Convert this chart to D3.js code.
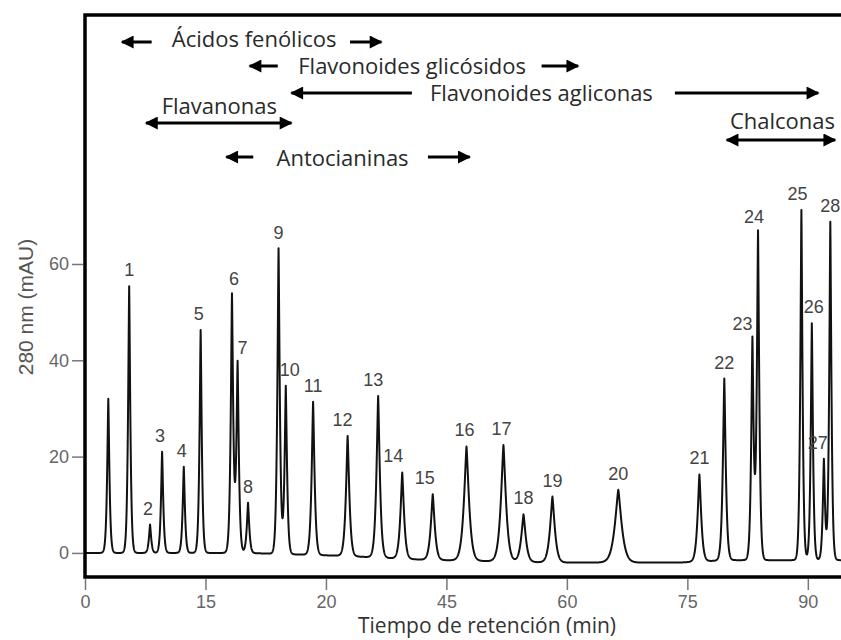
<!DOCTYPE html>
<html>
<head>
<meta charset="utf-8">
<script src="https://cdn.jsdelivr.net/npm/d3@7/dist/d3.min.js"></script>
<style>
  body { margin: 0; background: #fff; }
  svg { display: block; }
  .axis text { font-family: "Liberation Sans", Arial, sans-serif; font-size: 18px; fill: #666; }
  .axis line { stroke: #777; stroke-width: 1.5; }
  .axis path { display: none; }
  .peak-label { font-family: "Liberation Sans", Arial, sans-serif; font-size: 18px; fill: #444; }
  .note { font-family: "Open Sans", sans-serif; font-size: 22px; fill: #2a2a2a; }
</style>
</head>
<body>
<div id="chart"></div>
<script>
// Peak table (time in min, apex in mAU, width in min)
var peakLabels = ["", "1", "2", "3", "4", "5", "6", "7", "8", "9", "10", "11", "12", "13", "14",
  "15", "16", "17", "18", "19", "20", "21", "22", "23", "24", "25", "26", "27", "28"];
var peakTimes = [2.9, 5.5, 8.1, 9.6, 12.3, 14.4, 18.3, 19.0, 20.3, 24.1, 25.0, 28.4, 32.7, 36.5, 39.5,
  43.3, 47.5, 52.1, 54.6, 58.2, 66.4, 76.5, 79.6, 83.1, 83.8, 89.2, 90.5, 92.0, 92.8];
var peakHeights = [32, 55.4, 5.9, 21, 17.9, 46.3, 53.5, 39.3, 10.4, 63.2, 34.6, 31.4, 24.3, 32.6, 16.7,
  12.2, 22.1, 22.4, 8.0, 11.7, 13.1, 16.3, 36.2, 44.2, 66.5, 71.2, 47.7, 19.4, 68.7];
var peakWidths = [0.2, 0.2, 0.2, 0.2, 0.2, 0.2, 0.22, 0.22, 0.22, 0.22, 0.22, 0.26, 0.3, 0.3, 0.32,
  0.35, 0.45, 0.45, 0.4, 0.42, 0.6, 0.32, 0.26, 0.22, 0.22, 0.2, 0.2, 0.2, 0.2];

// Baseline drift read at a few times
var baselineTimes = [0, 20, 32, 42, 58, 74, 80, 96];
var baselineLevels = [0, 0, -0.6, -1.4, -2, -2, -1.5, -1.5];

// Axis ticks (labels as printed in the original figure)
var xTickValues = [0, 15, 30, 45, 60, 75, 90];
var xTickLabels = ["0", "15", "20", "45", "60", "75", "90"];
var yTickValues = [0, 20, 40, 60];

// Compound family ranges (min)
var families = [
  { name: "Ácidos fenólicos", text: 10.8, y: 38, arrows: [[8.3, 4.6], [33.0, 36.9]], ay: 42 },
  { name: "Flavonoides glicósidos", text: 26.55, y: 65, arrows: [[24.0, 20.5], [56.85, 61.4]], ay: 66 },
  { name: "Flavonoides agliconas", text: 42.95, y: 92, arrows: [[40.7, 25.7], [73.45, 91.3]], ay: 93 },
  { name: "Flavanonas", text: 9.55, y: 105, arrows: [[7.6, 25.7, "both"]], ay: 123 },
  { name: "Antocianinas", text: 23.85, y: 157, arrows: [[20.95, 17.6], [42.7, 47.9]], ay: 157 },
  { name: "Chalconas", text: 80.3, y: 120, arrows: [[79.9, 93.4, "both"]], ay: 140 }
];

var labelNudge = { "2": -2, "3": -2, "4": -2, "5": -2, "6": 2, "7": 5, "10": 4, "12": -5, "13": -5,
  "14": -9, "15": -8, "16": -2, "17": -2, "23": -10, "24": -4, "25": -4, "26": 2, "27": -6 };

var width = 841, height = 640;
var plot = { left: 85, top: 15, right: 852, bottom: 577 };

var svg = d3.select("#chart").append("svg")
  .attr("width", width)
  .attr("height", height);

var xScale = d3.scaleLinear().domain([0, 95.5]).range([plot.left, plot.right]);
var yScale = d3.scaleLinear().domain([-5, 111.7]).range([plot.bottom, plot.top]);

var baseline = d3.scaleLinear().domain(baselineTimes).range(baselineLevels);

var signal = function(t) {
  var v = baseline(t);
  for (var i = 0; i < peakTimes.length; i++) {
    var u = Math.abs(t - peakTimes[i]) / peakWidths[i];
    var amp = peakHeights[i] - baseline(peakTimes[i]);
    if (u < 15) v += amp * Math.exp(-Math.pow(u, 1.3));
  }
  return v;
};

var times = d3.range(0, 95.5, 0.02);

var defs = svg.append("defs");
defs.append("clipPath").attr("id", "plot-clip")
  .append("rect")
  .attr("x", plot.left).attr("y", plot.top)
  .attr("width", plot.right - plot.left).attr("height", plot.bottom - plot.top);

var line = d3.line()
  .x(function(t) { return xScale(t); })
  .y(function(t) { return yScale(signal(t)); });

svg.append("path")
  .datum(times)
  .attr("clip-path", "url(#plot-clip)")
  .attr("fill", "none")
  .attr("stroke", "#111")
  .attr("stroke-width", 2)
  .attr("stroke-linejoin", "round")
  .attr("d", line);

// Peak numbers
svg.append("g")
  .selectAll("text")
  .data(peakLabels.map(function(l, i) { return { label: l, t: peakTimes[i], h: peakHeights[i] }; })
    .filter(function(d) { return d.label !== ""; }))
  .enter()
  .append("text")
  .attr("class", "peak-label")
  .attr("text-anchor", "middle")
  .attr("dominant-baseline", "central")
  .attr("x", function(d) { return xScale(d.t) + (labelNudge[d.label] || 0); })
  .attr("y", function(d) { return yScale(d.h) - 16; })
  .text(function(d) { return d.label; });

// Frame
svg.append("rect")
  .attr("x", plot.left).attr("y", plot.top)
  .attr("width", plot.right - plot.left).attr("height", plot.bottom - plot.top)
  .attr("fill", "none")
  .attr("stroke", "#000")
  .attr("stroke-width", 3.5);

// Axes
svg.append("g")
  .attr("class", "axis y")
  .attr("transform", "translate(" + (plot.left - 2) + ",0)")
  .call(d3.axisLeft(yScale).tickValues(yTickValues).tickSize(11).tickPadding(3));

svg.append("g")
  .attr("class", "axis x")
  .attr("transform", "translate(0," + (plot.bottom + 2) + ")")
  .call(d3.axisBottom(xScale).tickValues(xTickValues).tickSize(11).tickPadding(5)
    .tickFormat(function(d, i) { return xTickLabels[i]; }));

svg.append("text")
  .attr("x", 487).attr("y", 625)
  .attr("text-anchor", "middle")
  .attr("dominant-baseline", "central")
  .attr("font-family", "'Open Sans', sans-serif")
  .attr("font-size", 21)
  .attr("fill", "#333")
  .text("Tiempo de retención (min)");

svg.append("text")
  .attr("transform", "translate(25,307) rotate(-90)")
  .attr("text-anchor", "middle")
  .attr("dominant-baseline", "central")
  .attr("font-family", "'Liberation Sans', Arial, sans-serif")
  .attr("font-size", 21)
  .attr("fill", "#555")
  .text("280 nm (mAU)");

// Family ranges with arrows
defs.append("marker")
  .attr("id", "head")
  .attr("viewBox", "0 0 10 10")
  .attr("refX", 9).attr("refY", 5)
  .attr("markerUnits", "userSpaceOnUse")
  .attr("markerWidth", 14).attr("markerHeight", 13)
  .attr("orient", "auto-start-reverse")
  .append("path")
  .attr("d", "M0,0L10,5L0,10z")
  .attr("fill", "#000");

var notes = svg.append("g").attr("class", "notes");
families.forEach(function(f) {
  notes.append("text")
    .attr("class", "note")
    .attr("x", xScale(f.text))
    .attr("y", f.y)
    .attr("dominant-baseline", "central")
    .text(f.name);
  f.arrows.forEach(function(a) {
    var l = notes.append("line")
      .attr("x1", xScale(a[0])).attr("x2", xScale(a[1]))
      .attr("y1", f.ay).attr("y2", f.ay)
      .attr("stroke", "#000")
      .attr("stroke-width", 3)
      .attr("marker-end", "url(#head)");
    if (a[2] === "both") l.attr("marker-start", "url(#head)");
  });
});
</script>
</body>
</html>
